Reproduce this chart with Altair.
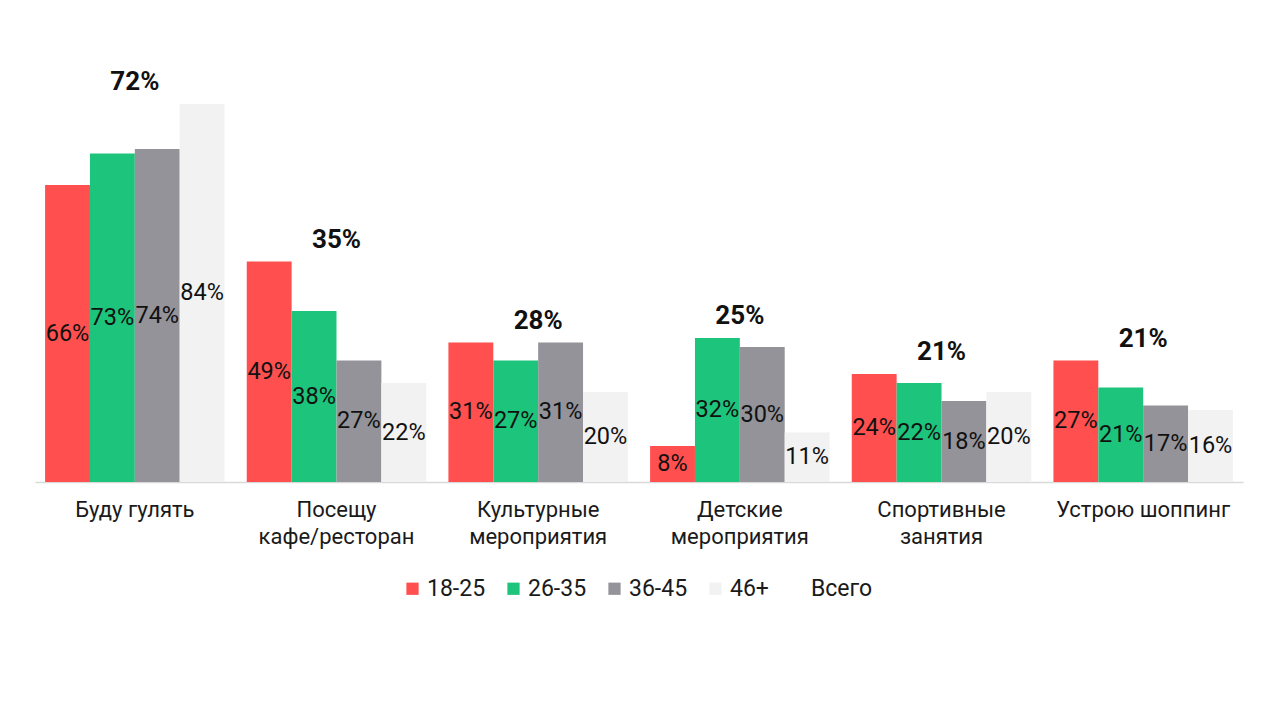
import altair as alt
import pandas as pd

categories = ["Буду гулять", "Посещу|кафе/ресторан", "Культурные|мероприятия",
              "Детские|мероприятия", "Спортивные|занятия", "Устрою шоппинг"]
age_groups = ["18-25", "26-35", "36-45", "46+"]
v_18_25 = [66, 49, 31, 8, 24, 27]
v_26_35 = [73, 38, 27, 32, 22, 21]
v_36_45 = [74, 27, 31, 30, 18, 17]
v_46_plus = [84, 22, 20, 11, 20, 16]
total = [72, 35, 28, 25, 21, 21]
total_name = "Всего"
colors = ["#FF4F4F", "#1DC47B", "#939399", "#F2F2F2"]

series = [v_18_25, v_26_35, v_36_45, v_46_plus]
rows = []
for g, vals in zip(age_groups, series):
    for c, v in zip(categories, vals):
        rows.append({"cat": c, "group": g, "value": v})
df = pd.DataFrame(rows)

tot_df = pd.DataFrame({
    "cat": categories,
    "total": total,
    "top": [max(t) for t in zip(*series)],
})

FONT = "Roboto"

x = alt.X("cat:N", sort=categories,
          scale=alt.Scale(paddingInner=0.11, paddingOuter=0.05),
          axis=alt.Axis(title=None, labelExpr="split(datum.label, '|')", labelAngle=0,
                        ticks=False, domainColor="#D9D9D9", domainWidth=1.5,
                        labelFontSize=22, labelColor="#1a1a1a", labelPadding=17,
                        labelLineHeight=27, labelFont=FONT))
xo = alt.XOffset("group:N", sort=age_groups, scale=alt.Scale(paddingInner=0, paddingOuter=0))
y_scale = alt.Scale(domain=[0, 100])

bars = alt.Chart(df).mark_bar().encode(
    x=x,
    xOffset=xo,
    y=alt.Y("value:Q", scale=y_scale, axis=None),
    color=alt.Color("group:N",
                    scale=alt.Scale(domain=age_groups + [total_name],
                                    range=colors + ["rgba(255,255,255,0)"]),
                    legend=alt.Legend(title=None, orient="none", direction="horizontal",
                                      legendX=366, legendY=545,
                                      symbolType="square", symbolSize=150,
                                      symbolStrokeWidth=0, labelFontSize=23,
                                      labelFont=FONT, labelColor="#1a1a1a",
                                      columnPadding=16, labelOffset=3)),
)

labels = alt.Chart(df).transform_calculate(
    mid="datum.value / 2",
    label="datum.value + '%'",
).mark_text(fontSize=23.5, font=FONT, color="#111111").encode(
    x=x,
    xOffset=xo,
    y=alt.Y("mid:Q", scale=y_scale, axis=None),
    text="label:N",
)

totals = alt.Chart(tot_df).transform_calculate(
    label="datum.total + '%'",
).mark_text(fontSize=26, font=FONT, fontWeight="bold", color="#111111", dy=-22).encode(
    x=x,
    y=alt.Y("top:Q", scale=y_scale, axis=None),
    text="label:N",
)

chart = alt.layer(bars, labels, totals).properties(
    width=1208, height=450,
    padding={"left": 27, "top": 24, "right": 5, "bottom": 5},
).configure(font=FONT).configure_view(strokeWidth=0)

chart.save("out.html", embed_options={"renderer": "svg", "actions": False})
